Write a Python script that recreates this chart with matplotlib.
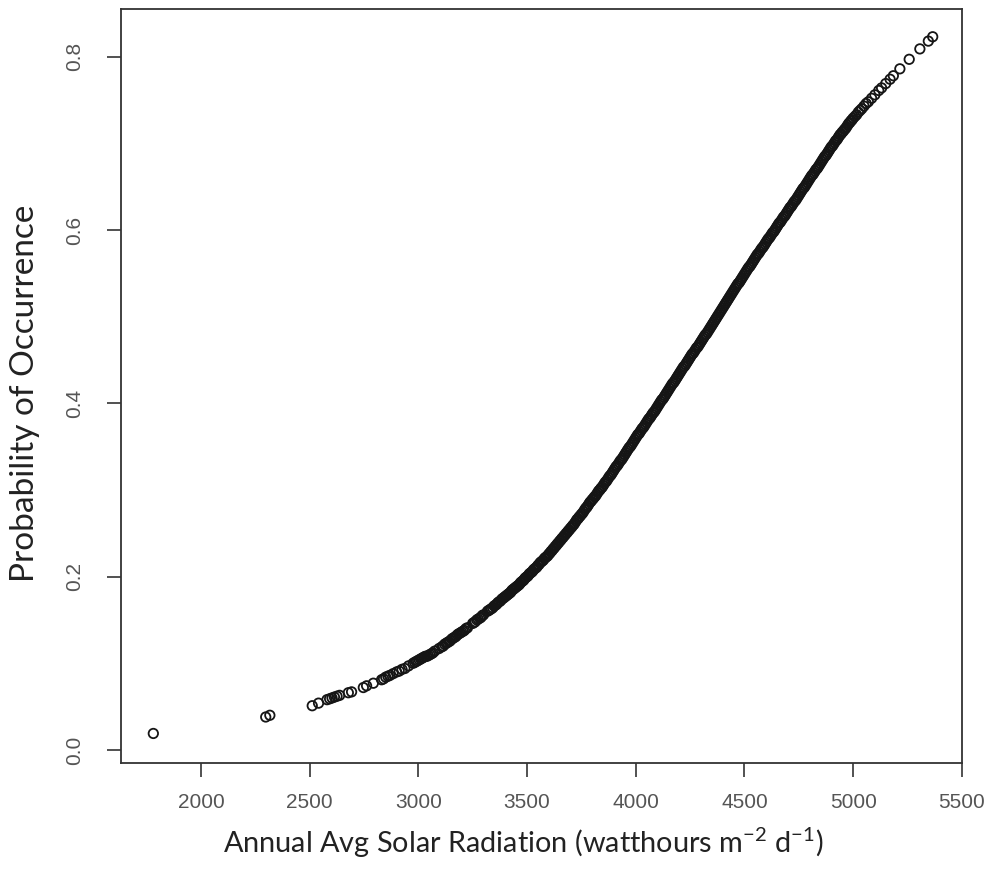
import numpy as np
import matplotlib
matplotlib.use("Agg")
import matplotlib.pyplot as plt

# readings, split by how crowded the curve is
x_low = [1781, 2298, 2317, 2512, 2541, 2580, 2592, 2603, 2614, 2626, 2638, 2678,
         2693, 2747, 2762, 2793, 2831, 2840, 2850, 2860]
y_low = [0.019, 0.038, 0.040, 0.051, 0.054, 0.058, 0.059, 0.060, 0.061, 0.062, 0.063, 0.066,
         0.067, 0.072, 0.074, 0.077, 0.081, 0.082, 0.084, 0.085]

x_mid = [2869, 2884, 2900, 2912, 2925, 2938, 2955, 2976, 2990, 3004, 3018, 3032,
         3046, 3060, 3075, 3095, 3108, 3121, 3134, 3147, 3160, 3173, 3186, 3199,
         3212, 3226, 3250, 3262, 3275, 3288, 3300, 3318, 3330, 3342, 3354, 3366,
         3378, 3390]
y_mid = [0.086, 0.088, 0.090, 0.091, 0.093, 0.094, 0.097, 0.100, 0.102, 0.104, 0.106, 0.108,
         0.109, 0.111, 0.114, 0.117, 0.119, 0.122, 0.124, 0.126, 0.129, 0.131, 0.134, 0.136,
         0.138, 0.141, 0.146, 0.148, 0.151, 0.153, 0.156, 0.160, 0.162, 0.164, 0.167, 0.170,
         0.172, 0.175]

x_mid2 = [2983, 2997, 3011, 3025, 3039, 3053, 3067, 3115, 3128, 3141, 3154, 3167,
          3180, 3193, 3206, 3219, 3256, 3269, 3282, 3294, 3324, 3336, 3348, 3360,
          3372, 3384, 3395]
y_mid2 = [0.101, 0.103, 0.105, 0.107, 0.108, 0.110, 0.112, 0.120, 0.123, 0.125, 0.128, 0.130,
          0.133, 0.135, 0.137, 0.140, 0.147, 0.150, 0.152, 0.155, 0.161, 0.163, 0.166, 0.168,
          0.171, 0.174, 0.176]

x_dense = [3400, 3410, 3420, 3430, 3440, 3450, 3460, 3470, 3480, 3490,
           3500, 3510, 3520, 3530, 3540, 3550, 3560, 3570, 3580, 3590,
           3600, 3610, 3620, 3630, 3640, 3650, 3660, 3670, 3680, 3690,
           3700, 3710, 3720, 3730, 3740, 3750, 3760, 3770, 3780, 3790,
           3800, 3810, 3820, 3830, 3840, 3850, 3860, 3870, 3880, 3890,
           3900, 3910, 3920, 3930, 3940, 3950, 3960, 3970, 3980, 3990,
           4000, 4010, 4020, 4030, 4040, 4050, 4060, 4070, 4080, 4090,
           4100, 4110, 4120, 4130, 4140, 4150, 4160, 4170, 4180, 4190,
           4200, 4210, 4220, 4230, 4240, 4250, 4260, 4270, 4280, 4290,
           4300, 4310, 4320, 4330, 4340, 4350, 4360, 4370, 4380, 4390,
           4400, 4410, 4420, 4430, 4440, 4450, 4460, 4470, 4480, 4490,
           4500, 4510, 4520, 4530, 4540, 4550, 4560, 4570, 4580, 4590,
           4600, 4610, 4620, 4630, 4640, 4650, 4660, 4670, 4680, 4690,
           4700, 4710, 4720, 4730, 4740, 4750, 4760, 4770, 4780, 4790,
           4800, 4810, 4820, 4830, 4840, 4850, 4860, 4870, 4880, 4890,
           4900, 4910, 4920, 4930, 4940, 4950, 4960, 4970, 4980, 4990, 5000]
y_dense = [0.177, 0.179, 0.181, 0.184, 0.186, 0.188, 0.190, 0.193, 0.195, 0.198,
           0.200, 0.203, 0.205, 0.208, 0.210, 0.213, 0.216, 0.218, 0.221, 0.223,
           0.226, 0.229, 0.232, 0.235, 0.238, 0.241, 0.244, 0.247, 0.250, 0.253,
           0.256, 0.259, 0.262, 0.266, 0.269, 0.272, 0.275, 0.279, 0.282, 0.286,
           0.289, 0.292, 0.295, 0.299, 0.302, 0.305, 0.309, 0.312, 0.316, 0.319,
           0.323, 0.327, 0.330, 0.334, 0.337, 0.341, 0.345, 0.349, 0.352, 0.356,
           0.360, 0.364, 0.367, 0.371, 0.374, 0.378, 0.382, 0.385, 0.389, 0.392,
           0.396, 0.400, 0.404, 0.407, 0.411, 0.415, 0.419, 0.423, 0.426, 0.430,
           0.434, 0.438, 0.442, 0.445, 0.449, 0.453, 0.457, 0.460, 0.464, 0.467,
           0.471, 0.475, 0.479, 0.482, 0.486, 0.490, 0.494, 0.498, 0.502, 0.506,
           0.510, 0.514, 0.518, 0.522, 0.526, 0.530, 0.534, 0.538, 0.541, 0.545,
           0.549, 0.553, 0.557, 0.560, 0.564, 0.568, 0.572, 0.575, 0.579, 0.582,
           0.586, 0.590, 0.593, 0.597, 0.600, 0.604, 0.608, 0.611, 0.615, 0.618,
           0.622, 0.626, 0.629, 0.633, 0.636, 0.640, 0.644, 0.648, 0.651, 0.655,
           0.659, 0.663, 0.666, 0.670, 0.673, 0.677, 0.681, 0.685, 0.688, 0.692,
           0.696, 0.699, 0.703, 0.706, 0.710, 0.713, 0.716, 0.719, 0.723, 0.726, 0.729]

# the overplotted band holds about twice as many sites again
x_dense2 = [3405, 3415, 3425, 3435, 3445, 3455, 3465, 3475, 3485, 3495,
            3505, 3515, 3525, 3535, 3545, 3555, 3565, 3575, 3585, 3595,
            3605, 3615, 3625, 3635, 3645, 3655, 3665, 3675, 3685, 3695,
            3705, 3715, 3725, 3735, 3745, 3755, 3765, 3775, 3785, 3795,
            3805, 3815, 3825, 3835, 3845, 3855, 3865, 3875, 3885, 3895,
            3905, 3915, 3925, 3935, 3945, 3955, 3965, 3975, 3985, 3995,
            4005, 4015, 4025, 4035, 4045, 4055, 4065, 4075, 4085, 4095,
            4105, 4115, 4125, 4135, 4145, 4155, 4165, 4175, 4185, 4195,
            4205, 4215, 4225, 4235, 4245, 4255, 4265, 4275, 4285, 4295,
            4305, 4315, 4325, 4335, 4345, 4355, 4365, 4375, 4385, 4395,
            4405, 4415, 4425, 4435, 4445, 4455, 4465, 4475, 4485, 4495,
            4505, 4515, 4525, 4535, 4545, 4555, 4565, 4575, 4585, 4595,
            4605, 4615, 4625, 4635, 4645, 4655, 4665, 4675, 4685, 4695,
            4705, 4715, 4725, 4735, 4745, 4755, 4765, 4775, 4785, 4795,
            4805, 4815, 4825, 4835, 4845, 4855, 4865, 4875, 4885, 4895,
            4905, 4915, 4925, 4935, 4945, 4955, 4965, 4975, 4985, 4995]
y_dense2 = [0.178, 0.180, 0.182, 0.185, 0.187, 0.189, 0.191, 0.194, 0.196, 0.199,
            0.201, 0.204, 0.206, 0.209, 0.211, 0.214, 0.217, 0.219, 0.222, 0.224,
            0.227, 0.230, 0.233, 0.236, 0.239, 0.242, 0.245, 0.248, 0.251, 0.254,
            0.257, 0.260, 0.264, 0.267, 0.270, 0.273, 0.277, 0.280, 0.284, 0.287,
            0.290, 0.293, 0.297, 0.300, 0.303, 0.307, 0.310, 0.314, 0.317, 0.321,
            0.325, 0.328, 0.332, 0.335, 0.339, 0.343, 0.347, 0.350, 0.354, 0.358,
            0.362, 0.365, 0.369, 0.372, 0.376, 0.380, 0.383, 0.387, 0.390, 0.394,
            0.398, 0.402, 0.405, 0.409, 0.413, 0.417, 0.421, 0.424, 0.428, 0.432,
            0.436, 0.440, 0.443, 0.447, 0.451, 0.455, 0.458, 0.462, 0.465, 0.469,
            0.473, 0.477, 0.480, 0.484, 0.488, 0.492, 0.496, 0.500, 0.504, 0.508,
            0.512, 0.516, 0.520, 0.524, 0.528, 0.532, 0.536, 0.539, 0.543, 0.547,
            0.551, 0.555, 0.558, 0.562, 0.566, 0.570, 0.573, 0.577, 0.580, 0.584,
            0.588, 0.591, 0.595, 0.598, 0.602, 0.606, 0.609, 0.613, 0.616, 0.620,
            0.624, 0.627, 0.631, 0.634, 0.638, 0.642, 0.646, 0.649, 0.653, 0.657,
            0.661, 0.664, 0.668, 0.671, 0.675, 0.679, 0.683, 0.686, 0.690, 0.694,
            0.697, 0.701, 0.704, 0.708, 0.711, 0.714, 0.717, 0.721, 0.724, 0.727]

x_high = [5008, 5016, 5024, 5032, 5040, 5050, 5060, 5070, 5085, 5100, 5118, 5131,
          5150, 5170, 5185, 5215, 5258, 5307, 5346, 5366]
y_high = [0.731, 0.733, 0.736, 0.738, 0.740, 0.743, 0.746, 0.748, 0.752, 0.756, 0.761, 0.764,
          0.769, 0.774, 0.778, 0.786, 0.797, 0.809, 0.818, 0.823]

x_ticks = [2000, 2500, 3000, 3500, 4000, 4500, 5000, 5500]
y_ticks = [0.0, 0.2, 0.4, 0.6, 0.8]

solar = np.array(x_low + x_mid + x_mid2 + x_dense + x_dense2 + x_high)
prob = np.array(y_low + y_mid + y_mid2 + y_dense + y_dense2 + y_high)

fig = plt.figure(figsize=(9.96, 8.86), dpi=100)
ax = fig.add_axes([0.1212, 0.1392, 0.8447, 0.8506])

ax.scatter(solar, prob, s=46, facecolors="none", edgecolors="#151515", linewidths=1.3)

ax.set_xlim(1631, 5501)
ax.set_ylim(-0.0147, 0.855)
ax.set_xticks(x_ticks)
ax.set_yticks(y_ticks)
ax.set_yticklabels(["%.1f" % v for v in y_ticks], rotation=90, va="center")

for lab in ax.get_xticklabels() + ax.get_yticklabels():
    lab.set_fontfamily("Liberation Sans")
    lab.set_fontsize(15)
    lab.set_color("#555555")

ax.tick_params(axis="both", direction="out", length=10, width=1.2, color="#333333")
ax.tick_params(axis="x", pad=12)
ax.tick_params(axis="y", pad=16)
for sp in ax.spines.values():
    sp.set_color("#333333")
    sp.set_linewidth(1.3)

fig.text(0.525, 0.049, "Annual Avg Solar Radiation (watthours m$^{\\mathregular{-2}}$ d$^{\\mathregular{-1}}$)",
         ha="center", va="center", fontsize=20.8, family="Lato", color="#222222")
fig.text(0.0255, 0.556, "Probability of Occurrence", ha="center", va="center",
         rotation=90, fontsize=24, family="Lato", color="#222222")

fig.savefig("out.png", dpi=100)
